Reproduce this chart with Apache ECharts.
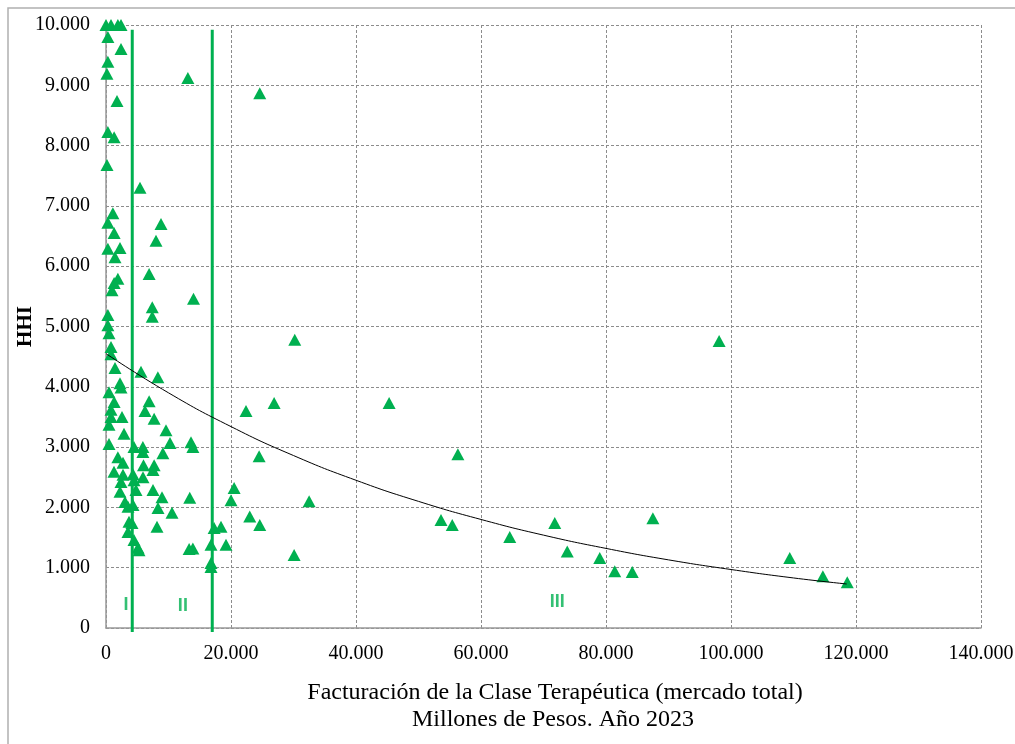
<!DOCTYPE html>
<html>
<head>
<meta charset="utf-8">
<script src="https://cdn.jsdelivr.net/npm/echarts@6/dist/echarts.min.js"></script>
<style>
html,body{margin:0;padding:0;background:#fff;}
#chart{width:1015px;height:744px;}
</style>
</head>
<body>
<div id="chart"></div>
<script>
// Scatter points: [facturación (millones de pesos), HHI]
const points = [
  [0,10000],[800,10000],[1900,10000],[2400,10000],[300,9800],[2400,9600],[300,9390],[150,9190],
  [1760,8740],[300,8225],[1300,8140],[160,7680],[5440,7300],
  [1100,6880],[300,6720],[1300,6550],[8800,6700],[8000,6420],[300,6290],[2240,6300],[1440,6150],
  [6900,5870],[1900,5790],[1300,5720],[960,5600],[7400,5320],[7400,5160],[300,5190],[300,5020],
  [480,4890],[800,4660],[800,4540],
  [1440,4310],[5600,4250],[8300,4160],[2240,4060],[2400,3990],[480,3910],[6900,3760],[1300,3750],
  [6240,3600],[800,3620],[2560,3500],[800,3500],[7700,3470],[480,3370],[2880,3220],[9600,3280],
  [10240,3070],[480,3050],[4480,3000],[5900,3000],[5900,2920],[9100,2900],
  [1900,2830],[2720,2740],[6000,2700],[7700,2700],
  [1280,2590],[2720,2540],[4320,2550],[5920,2500],[7520,2620],[2400,2420],[4480,2450],[4800,2290],
  [7520,2290],[2240,2260],[8960,2170],[3040,2090],[4320,2040],[3520,2010],[8320,1990],[10560,1910],
  [3680,1760],[4160,1740],[8160,1680],[3520,1590],[4480,1460],[5120,1330],[5280,1290],
  [13100,9120],[24600,8870],[14000,5460],[30200,4780],[98100,4760],[22400,3600],[26900,3730],
  [45300,3730],[56300,2880],[24500,2850],[13600,3080],[13900,3000],[20500,2320],[20000,2120],
  [13400,2160],[32500,2100],[23000,1850],[24600,1710],[53600,1790],[55400,1710],[71800,1740],
  [87500,1820],[64600,1510],[73800,1270],[79000,1160],[81400,940],[84200,930],[109400,1160],
  [114700,860],[118600,760],[30100,1210],[13300,1310],[13900,1320],[16800,1080],[16800,1010],
  [16800,1380],[17300,1660],[18400,1680],[19200,1380]
];
// Trend line
const trendX = [0,10000,20000,30000,40000,50000,60000,70000,80000,90000,100000,110000,118500];
const trendY = [4550,3900,3340,2860,2450,2100,1800,1540,1320,1130,970,830,730];
// Segment dividers
const dividers = [4200, 17000];
const segLabels = ['I','II','III'];
const segLabelX = [3200, 12300, 72200];
const segLabelY = [380, 370, 430];

function fmt(v){ return v===0 ? '0' : String(v).replace(/\B(?=(\d{3})+(?!\d))/g,'.'); }

const green = '#00B050';
const serif = '"Liberation Serif","Times New Roman",serif';

const series = [
  {
    type:'scatter', data: points, symbol:'triangle', symbolSize:[13,12],
    itemStyle:{color:green, opacity:1}, z:3
  },
  {
    type:'line', data: trendX.map((x,i)=>[x,trendY[i]]), smooth:true, showSymbol:false,
    lineStyle:{color:'#000',width:1}, z:4
  }
];
dividers.forEach(d=>{
  series.push({
    type:'line', data:[[d,-65],[d,9920]], showSymbol:false, clip:false,
    lineStyle:{color:green,width:3}, z:2
  });
});
series.push({
  type:'scatter', symbolSize:0,
  data: segLabels.map((t,i)=>({value:[segLabelX[i],segLabelY[i]], name:t})),
  label:{show:true, position:'inside', formatter:p=>p.name, color:green,
         fontFamily:'"Liberation Sans",Arial,sans-serif', fontSize:18, fontWeight:'bold'},
  z:5
});

const chart = echarts.init(document.getElementById('chart'));
chart.setOption({
  animation:false,
  backgroundColor:'#fff',
  grid:{left:106, right:34, top:25, bottom:116, containLabel:false, outerBoundsMode:'none'},
  xAxis:{
    type:'value', min:0, max:140000, interval:20000,
    axisLine:{show:true, lineStyle:{color:'#999',width:1.5}},
    axisTick:{show:false},
    axisLabel:{formatter:fmt, color:'#000', fontFamily:serif, fontSize:20, margin:16},
    splitLine:{show:true, lineStyle:{color:'#8c8c8c', type:[3,2], width:1}}
  },
  yAxis:{
    type:'value', min:0, max:10000, interval:1000,
    name:'HHI', nameLocation:'middle', nameRotate:90, nameGap:70, nameMoveOverlap:false,
    nameTextStyle:{fontFamily:serif, fontSize:21, fontWeight:'bold', color:'#000'},
    axisLine:{show:true, lineStyle:{color:'#999',width:1.5}},
    axisTick:{show:false},
    axisLabel:{formatter:fmt, color:'#000', fontFamily:serif, fontSize:20, margin:16},
    splitLine:{show:true, lineStyle:{color:'#8c8c8c', type:[3,2], width:1}}
  },
  graphic:[
    {type:'rect', shape:{x:8,y:8,width:1100,height:800}, style:{fill:'none',stroke:'#b0b0b0',lineWidth:1.5}, silent:true, z:-1},
    {type:'text', style:{text:'Facturación de la Clase Terapéutica (mercado total)', x:555, y:693, textAlign:'center', textVerticalAlign:'middle', fill:'#000', font:'24px "Liberation Serif", serif'}},
    {type:'text', style:{text:'Millones de Pesos. Año 2023', x:553, y:720, textAlign:'center', textVerticalAlign:'middle', fill:'#000', font:'24px "Liberation Serif", serif'}}
  ],
  series: series
});
</script>
</body>
</html>
